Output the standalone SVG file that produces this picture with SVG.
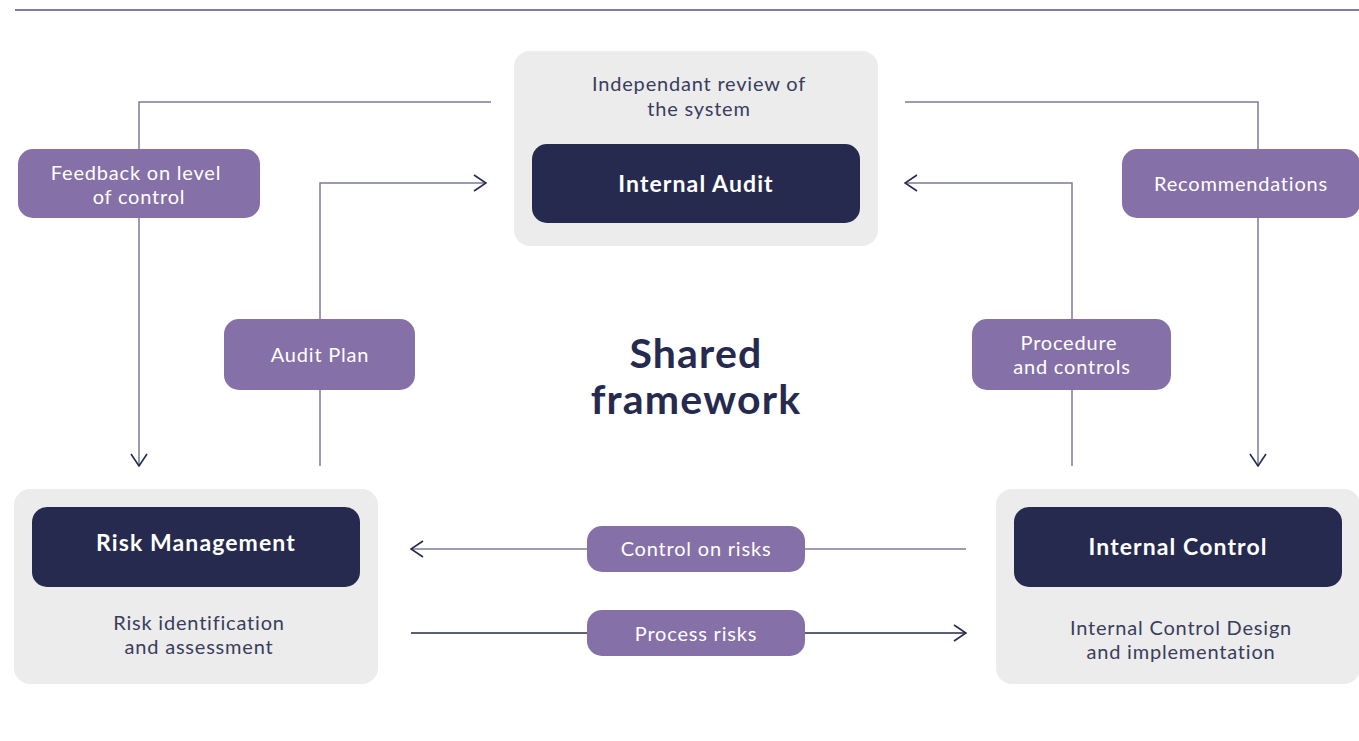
<svg xmlns="http://www.w3.org/2000/svg" width="1359" height="741" viewBox="0 0 1359 741">
<style>
.outer{fill:#ececec}
.inner{fill:#262a4e}
.lbl{fill:#8670a8}
.t{font-family:Lato,"Noto Sans",sans-serif;text-anchor:middle;dominant-baseline:central}
.desc{font-size:20px;letter-spacing:0.8px;fill:#3a3d5c}
.title{font-size:23px;font-weight:700;letter-spacing:1.1px;fill:#ffffff}
.lt{font-size:20px;letter-spacing:0.8px;fill:#ffffff}
.big{font-size:41px;font-weight:700;letter-spacing:1.2px;fill:#262a4e}
.c{fill:none;stroke:#7c7c96;stroke-width:1.5}
.cd{fill:none;stroke:#262a4e;stroke-width:1.5}
</style>
<defs>
<marker id="arr" viewBox="0 0 14 18" refX="13" refY="9" markerWidth="14" markerHeight="18" markerUnits="userSpaceOnUse" orient="auto">
<path d="M1,1 L13,9 L1,17" fill="none" stroke="#262a4e" stroke-width="1.6"/>
</marker>
</defs>
<rect width="1359" height="741" fill="#ffffff"/>
<line x1="15" y1="10" x2="1359" y2="10" stroke="#55557a" stroke-width="1.5"/>

<g id="connectors">
<path class="c" d="M491,102 H139 V466" marker-end="url(#arr)"/>
<path class="c" d="M320,466 V183 H486" marker-end="url(#arr)"/>
<path class="c" d="M905,102 H1258 V466" marker-end="url(#arr)"/>
<path class="c" d="M1072,466 V183 H905" marker-end="url(#arr)"/>
<path class="c" d="M966,549 H411" marker-end="url(#arr)"/>
<path class="cd" d="M411,633 H966" marker-end="url(#arr)"/>
</g>

<g id="internal-audit">
<rect class="outer" x="514" y="51" width="364" height="195" rx="16"/>
<text class="t desc" x="699" y="83">Independant review of</text>
<text class="t desc" x="699" y="108">the system</text>
<rect class="inner" x="532" y="144" width="328" height="79" rx="15"/>
<text class="t title" x="696" y="183">Internal Audit</text>
</g>

<g id="risk-management">
<rect class="outer" x="14" y="489" width="364" height="195" rx="16"/>
<rect class="inner" x="32" y="507" width="328" height="80" rx="15"/>
<text class="t title" x="196" y="542">Risk Management</text>
<text class="t desc" x="199" y="622">Risk identification</text>
<text class="t desc" x="199" y="646">and assessment</text>
</g>

<g id="internal-control">
<rect class="outer" x="996" y="489" width="364" height="195" rx="16"/>
<rect class="inner" x="1014" y="507" width="328" height="80" rx="15"/>
<text class="t title" x="1178" y="546">Internal Control</text>
<text class="t desc" x="1181" y="627">Internal Control Design</text>
<text class="t desc" x="1181" y="651">and implementation</text>
</g>

<g id="shared-framework">
<text class="t big" x="696" y="352">Shared</text>
<text class="t big" x="696" y="398">framework</text>
</g>

<g id="label-feedback">
<rect class="lbl" x="18" y="149" width="242" height="69" rx="15"/>
<text class="t lt" x="136" y="172">Feedback on level</text>
<text class="t lt" x="139" y="196">of control</text>
</g>

<g id="label-audit-plan">
<rect class="lbl" x="224" y="319" width="191" height="71" rx="15"/>
<text class="t lt" x="320" y="354">Audit Plan</text>
</g>

<g id="label-recommendations">
<rect class="lbl" x="1122" y="149" width="238" height="69" rx="15"/>
<text class="t lt" x="1241" y="183">Recommendations</text>
</g>

<g id="label-procedure">
<rect class="lbl" x="972" y="319" width="199" height="71" rx="15"/>
<text class="t lt" x="1069" y="342">Procedure</text>
<text class="t lt" x="1072" y="366">and controls</text>
</g>

<g id="label-control-on-risks">
<rect class="lbl" x="587" y="526" width="218" height="46" rx="15"/>
<text class="t lt" x="696" y="548">Control on risks</text>
</g>

<g id="label-process-risks">
<rect class="lbl" x="587" y="610" width="218" height="46" rx="15"/>
<text class="t lt" x="696" y="633">Process risks</text>
</g>
</svg>
